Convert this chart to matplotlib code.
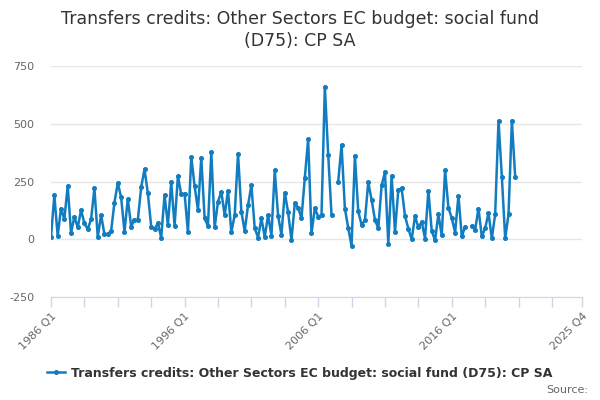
import numpy as np
import matplotlib
matplotlib.use("Agg")
import matplotlib.pyplot as plt

# quarterly values, 1986 Q1 .. 2020 Q4 (nan = missing)
values = [
    10, 191, 14, 133, 87, 231, 27, 98, 51, 126,
    69, 43, 87, 220, 10, 105, 22, 22, 36, 159,
    244, 181, 33, 175, 55, 84, 84, 225, 303, 199,
    55, 43, 69, 7, 192, 62, 246, 58, 273, 194,
    198, 30, 358, 230, 126, 353, 90, 58, 377, 51,
    163, 205, 104, 210, 30, 104, 371, 120, 35, 147,
    234, 48, 7, 91, 10, 104, 16, 298, 101, 20,
    202, 116, -3, 155, 137, 91, 266, 434, 25, 134,
    98, 105, 660, 366, 105, np.nan, 250, 407, 133, 49,
    -29, 361, 121, 62, 82, 247, 171, 84, 48, 233,
    290, -19, 275, 32, 215, 220, 101, 46, 0, 100,
    51, 75, 3, 211, 36, -4, 108, 17, 298, 136,
    92, 29, 189, 13, 53, np.nan, 58, 40, 133, 12,
    48, 113, 4, 108, 513, 270, 4, 108, 513, 269,
]

years = list(range(1986, 2026))
quarters = [f"{y} Q{q}" for y in years for q in range(1, 5)]
tick_labels = {0: "1986 Q1", 40: "1996 Q1", 80: "2006 Q1", 120: "2016 Q1", 159: "2025 Q4"}
yticks = [-250, 0, 250, 500, 750]

series_name = "Transfers credits: Other Sectors EC budget: social fund (D75): CP SA"
color = "#117dc0"

fig = plt.figure(figsize=(6, 4), dpi=100)
ax = fig.add_axes([51 / 600, 103 / 400, 531 / 600, 231 / 400])

x = np.arange(len(values))
ax.plot(x, values, color=color, linewidth=1.8, marker="o", markersize=2.6,
        label=series_name)

ax.set_xlim(0, len(quarters) - 1)
ax.set_ylim(-250, 750)
ax.set_yticks(yticks)
ax.set_yticklabels([str(v) for v in yticks], color="#666666", fontsize=8)
ax.tick_params(axis="y", length=0, pad=12)

xt = list(range(0, len(quarters), 10)) + [len(quarters) - 1]
ax.set_xticks(xt)
ax.set_xticklabels([tick_labels.get(t, "") for t in xt], rotation=45, ha="right",
                   rotation_mode="anchor", color="#666666", fontsize=8)
ax.tick_params(axis="x", length=7, color="#ccd6eb", width=1, pad=3)

ax.grid(axis="y", color="#e6e6e6", linewidth=1)
ax.set_axisbelow(True)
for s in ["top", "right", "left"]:
    ax.spines[s].set_visible(False)
ax.spines["bottom"].set_color("#ccd6eb")

fig.text(0.5, 1 - 30 / 400,
         "Transfers credits: Other Sectors EC budget: social fund\n(D75): CP SA",
         ha="center", va="center", fontsize=12.5, color="#333333", linespacing=1.3)

leg = fig.legend(loc="center", bbox_to_anchor=(0.5, 1 - 373 / 400), frameon=False,
                 prop={"weight": "bold", "size": 9}, handlelength=1.4,
                 handletextpad=0.5, labelcolor="#333333")

fig.text(588 / 600, 1 - 390 / 400, "Source:", ha="right", va="center",
         fontsize=8, color="#666666")

fig.savefig("out.png", dpi=100)
